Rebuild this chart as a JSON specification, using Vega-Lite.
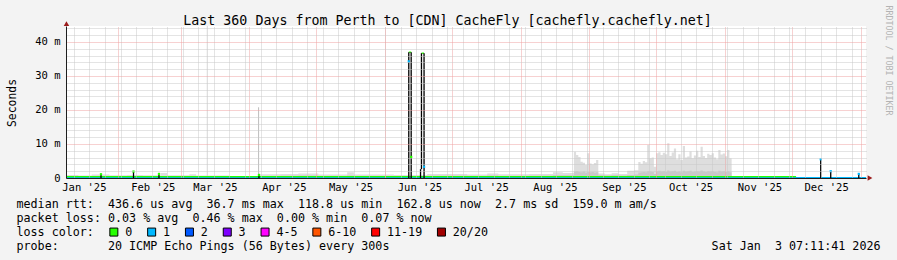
{
 "$schema": "https://vega.github.io/schema/vega-lite/v6.json",
 "width": 800,
 "height": 152,
 "autosize": {"type": "none"},
 "padding": {"left": 66, "top": 26, "right": 31, "bottom": 82},
 "background": "#f3f3f3",
 "config": {"view": {"fill": "#ffffff", "stroke": null}, "font": "DejaVu Sans Mono"},
 "datasets": {
  "smoke": [
   {"date": "2025-01-08T11:00", "hi": 0.9, "lo": 0.5},
   {"date": "2025-01-14T00:00", "hi": 0.7, "lo": 0.45},
   {"date": "2025-01-20T00:00", "hi": 1.0, "lo": 0.55},
   {"date": "2025-01-28T00:00", "hi": 0.8, "lo": 0.5},
   {"date": "2025-02-05T00:00", "hi": 0.9, "lo": 0.5},
   {"date": "2025-02-12T00:00", "hi": 0.8, "lo": 0.5},
   {"date": "2025-02-20T00:00", "hi": 1.5, "lo": 0.6},
   {"date": "2025-02-23T00:00", "hi": 0.8, "lo": 0.5},
   {"date": "2025-03-05T00:00", "hi": 1.1, "lo": 0.55},
   {"date": "2025-03-08T00:00", "hi": 0.7, "lo": 0.45},
   {"date": "2025-03-23T00:00", "hi": 0.6, "lo": 0.4},
   {"date": "2025-04-05T00:00", "hi": 1.1, "lo": 0.6},
   {"date": "2025-04-15T00:00", "hi": 1.2, "lo": 0.65},
   {"date": "2025-04-23T00:00", "hi": 1.3, "lo": 0.7},
   {"date": "2025-05-02T00:00", "hi": 1.0, "lo": 0.6},
   {"date": "2025-05-15T00:00", "hi": 1.7, "lo": 0.7},
   {"date": "2025-05-18T00:00", "hi": 1.0, "lo": 0.6},
   {"date": "2025-06-05T00:00", "hi": 0.9, "lo": 0.55},
   {"date": "2025-06-20T00:00", "hi": 1.2, "lo": 0.65},
   {"date": "2025-07-08T00:00", "hi": 1.0, "lo": 0.6},
   {"date": "2025-07-17T00:00", "hi": 1.3, "lo": 0.7},
   {"date": "2025-07-22T00:00", "hi": 1.1, "lo": 0.6},
   {"date": "2025-08-05T00:00", "hi": 1.2, "lo": 0.65},
   {"date": "2025-08-15T14:00", "hi": 1.7, "lo": 0.8},
   {"date": "2025-08-20T00:00", "hi": 1.5, "lo": 0.8},
   {"date": "2025-08-25T00:00", "hi": 7.7, "lo": 1.9},
   {"date": "2025-08-26T00:00", "hi": 6.8, "lo": 2.0},
   {"date": "2025-08-27T00:00", "hi": 6.2, "lo": 1.8},
   {"date": "2025-08-28T00:00", "hi": 4.8, "lo": 1.7},
   {"date": "2025-08-29T00:00", "hi": 4.5, "lo": 1.9},
   {"date": "2025-08-30T00:00", "hi": 3.8, "lo": 1.6},
   {"date": "2025-08-31T00:00", "hi": 7.3, "lo": 1.8},
   {"date": "2025-09-01T00:00", "hi": 4.3, "lo": 1.7},
   {"date": "2025-09-02T00:00", "hi": 4.0, "lo": 1.8},
   {"date": "2025-09-03T00:00", "hi": 4.4, "lo": 1.6},
   {"date": "2025-09-04T00:00", "hi": 5.3, "lo": 1.7},
   {"date": "2025-09-05T00:00", "hi": 1.3, "lo": 0.8},
   {"date": "2025-09-08T00:00", "hi": 1.1, "lo": 0.7},
   {"date": "2025-09-11T00:00", "hi": 1.4, "lo": 0.8},
   {"date": "2025-09-14T00:00", "hi": 1.2, "lo": 0.7},
   {"date": "2025-09-18T00:00", "hi": 2.1, "lo": 0.9},
   {"date": "2025-09-21T00:00", "hi": 2.3, "lo": 1.0},
   {"date": "2025-09-23T00:00", "hi": 4.7, "lo": 1.6},
   {"date": "2025-09-24T00:00", "hi": 4.2, "lo": 1.7},
   {"date": "2025-09-25T00:00", "hi": 5.0, "lo": 1.8},
   {"date": "2025-09-26T00:00", "hi": 4.6, "lo": 1.7},
   {"date": "2025-09-27T00:00", "hi": 9.7, "lo": 2.0},
   {"date": "2025-09-28T00:00", "hi": 5.8, "lo": 1.9},
   {"date": "2025-09-29T00:00", "hi": 6.0, "lo": 1.8},
   {"date": "2025-09-30T00:00", "hi": 3.3, "lo": 1.2},
   {"date": "2025-10-01T00:00", "hi": 7.3, "lo": 2.0},
   {"date": "2025-10-02T00:00", "hi": 7.6, "lo": 2.1},
   {"date": "2025-10-03T00:00", "hi": 6.8, "lo": 1.9},
   {"date": "2025-10-04T00:00", "hi": 7.4, "lo": 2.0},
   {"date": "2025-10-05T00:00", "hi": 7.0, "lo": 1.8},
   {"date": "2025-10-06T00:00", "hi": 10.2, "lo": 2.2},
   {"date": "2025-10-07T00:00", "hi": 6.5, "lo": 1.9},
   {"date": "2025-10-08T00:00", "hi": 7.5, "lo": 2.0},
   {"date": "2025-10-09T00:00", "hi": 8.7, "lo": 2.1},
   {"date": "2025-10-10T00:00", "hi": 5.5, "lo": 1.8},
   {"date": "2025-10-11T00:00", "hi": 7.0, "lo": 1.9},
   {"date": "2025-10-12T00:00", "hi": 5.3, "lo": 1.7},
   {"date": "2025-10-13T00:00", "hi": 9.4, "lo": 2.1},
   {"date": "2025-10-14T00:00", "hi": 6.0, "lo": 1.9},
   {"date": "2025-10-15T00:00", "hi": 6.3, "lo": 2.0},
   {"date": "2025-10-16T00:00", "hi": 7.8, "lo": 2.1},
   {"date": "2025-10-17T00:00", "hi": 5.8, "lo": 1.8},
   {"date": "2025-10-18T00:00", "hi": 6.6, "lo": 1.9},
   {"date": "2025-10-19T00:00", "hi": 8.0, "lo": 2.0},
   {"date": "2025-10-20T00:00", "hi": 6.2, "lo": 1.9},
   {"date": "2025-10-21T00:00", "hi": 9.2, "lo": 2.2},
   {"date": "2025-10-22T00:00", "hi": 6.5, "lo": 1.9},
   {"date": "2025-10-23T00:00", "hi": 5.9, "lo": 1.8},
   {"date": "2025-10-24T00:00", "hi": 7.1, "lo": 2.0},
   {"date": "2025-10-25T00:00", "hi": 6.8, "lo": 1.9},
   {"date": "2025-10-26T00:00", "hi": 7.3, "lo": 2.0},
   {"date": "2025-10-27T00:00", "hi": 6.0, "lo": 1.8},
   {"date": "2025-10-28T00:00", "hi": 5.5, "lo": 1.7},
   {"date": "2025-10-29T00:00", "hi": 8.2, "lo": 2.1},
   {"date": "2025-10-30T00:00", "hi": 6.9, "lo": 1.9},
   {"date": "2025-10-31T00:00", "hi": 7.2, "lo": 2.0},
   {"date": "2025-11-01T00:00", "hi": 6.4, "lo": 1.8},
   {"date": "2025-11-02T00:00", "hi": 8.2, "lo": 2.0},
   {"date": "2025-11-03T00:00", "hi": 5.8, "lo": 1.7},
   {"date": "2025-11-04T00:00", "hi": 0.3, "lo": 0.2},
   {"date": "2026-01-03T11:00", "hi": 0.3, "lo": 0.2}
  ],
  "unknown": [
   {"date": "2025-03-13T01:00", "lo": 0, "hi": 44.7}
  ],
  "smokespike": [
   {"date": "2025-04-05T03:00", "lo": 0, "hi": 20.8}
  ],
  "median": [
   {"start": "2025-01-08T11:00", "end": "2026-01-03T11:00", "v": 0.1, "loss": "1"},
   {"start": "2025-01-08T11:00", "end": "2025-12-03T00:00", "v": 0.4, "loss": "0"},
   {"start": "2025-06-11T17:00", "end": "2025-06-12T19:00", "v": 37.0, "loss": "0"},
   {"start": "2025-06-17T10:00", "end": "2025-06-18T14:00", "v": 36.7, "loss": "0"}
  ],
  "spikes": [
   {"date": "2025-01-24T05:00", "lo": 0, "hi": 1.1},
   {"date": "2025-02-07T20:00", "lo": 0, "hi": 1.9},
   {"date": "2025-02-19T07:00", "lo": 0, "hi": 1.2},
   {"date": "2025-04-05T07:00", "lo": 0, "hi": 0.9},
   {"date": "2025-06-11T17:00", "lo": 0, "hi": 37.0},
   {"date": "2025-06-12T19:00", "lo": 0, "hi": 37.0},
   {"date": "2025-06-17T00:00", "lo": 0, "hi": 2.6},
   {"date": "2025-06-17T10:00", "lo": 2.6, "hi": 36.7},
   {"date": "2025-06-18T14:00", "lo": 0, "hi": 36.7},
   {"date": "2025-12-14T02:00", "lo": 0, "hi": 5.5},
   {"date": "2025-12-18T14:00", "lo": 0, "hi": 2.0},
   {"date": "2025-12-31T05:00", "lo": 0, "hi": 1.2}
  ],
  "tops": [
   {"date": "2025-01-24T05:00", "v": 1.1, "loss": "0"},
   {"date": "2025-02-07T20:00", "v": 1.9, "loss": "0"},
   {"date": "2025-02-19T07:00", "v": 1.2, "loss": "0"},
   {"date": "2025-04-05T07:00", "v": 0.9, "loss": "0"},
   {"date": "2025-06-11T17:00", "v": 34.3, "loss": "1"},
   {"date": "2025-06-12T19:00", "v": 6.2, "loss": "0"},
   {"date": "2025-06-18T14:00", "v": 3.3, "loss": "1"},
   {"date": "2025-12-14T02:00", "v": 5.5, "loss": "1"},
   {"date": "2025-12-18T14:00", "v": 2.0, "loss": "1"},
   {"date": "2025-12-31T05:00", "v": 1.2, "loss": "1"}
  ],
  "arrows": [
   {"date": "2026-01-05T06:00", "v": 0, "axis": "x"},
   {"date": "2025-01-08T16:00", "v": 45.43, "axis": "y"}
  ]
 },
 "layer": [
  {
   "data": {"name": "smoke"},
   "mark": {"type": "area", "interpolate": "step-after", "color": "#dedede"},
   "encoding": {
    "x": {"field": "date", "type": "temporal",
     "scale": {"domain": [{"year": 2025, "month": 1, "date": 8, "hours": 11}, {"year": 2026, "month": 1, "date": 3, "hours": 11}], "nice": false},
     "axis": {"orient": "top", "tickCount": {"interval": "week", "step": 1}, "grid": true, "gridColor": "#c8c8c8", "gridDash": [1, 1], "gridWidth": 1, "labels": false, "ticks": false, "domain": false, "zindex": 1,
      "title": "Last 360 Days from Perth to [CDN] CacheFly [cachefly.cachefly.net]",
      "titleX": 381, "titleY": -2, "titleAlign": "center", "titleBaseline": "alphabetic", "titleAngle": 0,
      "titleFont": "DejaVu Sans Mono", "titleFontSize": 13.3, "titleFontWeight": "normal", "titleColor": "#000000"}},
    "y": {"field": "hi", "type": "quantitative",
     "scale": {"domain": [0, 44.7], "nice": false, "zero": true},
     "axis": {"orient": "right", "values": [2, 4, 6, 8, 12, 14, 16, 18, 22, 24, 26, 28, 32, 34, 36, 38, 42, 44], "grid": true, "gridColor": "#c8c8c8", "gridDash": [1, 1], "gridWidth": 1, "labels": false, "ticks": false, "domain": false, "zindex": 1,
      "title": "RRDTOOL / TOBI OETIKER", "titleX": 19, "titleY": -21, "titleAngle": 90, "titleAlign": "left", "titleBaseline": "alphabetic",
      "titleFont": "DejaVu Sans Mono", "titleFontSize": 8.3, "titleFontWeight": "normal", "titleColor": "#b3b3b3"}}
   }
  },
  {
   "data": {"name": "smoke"},
   "mark": {"type": "area", "interpolate": "step-after", "color": "#c9c9c9"},
   "encoding": {
    "x": {"field": "date", "type": "temporal",
     "scale": {"domain": [{"year": 2025, "month": 1, "date": 8, "hours": 11}, {"year": 2026, "month": 1, "date": 3, "hours": 11}], "nice": false},
     "axis": {"orient": "top", "tickCount": {"interval": "month", "step": 1}, "grid": true, "gridColor": "#efa3a3", "gridDash": [1, 1], "gridWidth": 1, "labels": false, "ticks": false, "domain": false, "zindex": 1,
      "title": "Sat Jan\u00a0\u00a03 07:11:41 2026", "titleX": 814, "titleY": 223.3, "titleAlign": "right", "titleBaseline": "alphabetic", "titleAngle": 0,
      "titleFont": "DejaVu Sans Mono", "titleFontSize": 11.7, "titleFontWeight": "normal", "titleColor": "#000000"}},
    "y": {"field": "lo", "type": "quantitative",
     "scale": {"domain": [0, 44.7], "nice": false, "zero": true},
     "axis": {"orient": "left", "values": [0, 10, 20, 30, 40], "labelExpr": "datum.value == 0 ? '0' : datum.value + ' m'",
      "grid": true, "gridColor": "#efa3a3", "gridDash": [1, 1], "gridWidth": 1, "ticks": false, "tickSize": 0, "labelPadding": 6,
      "labelFont": "DejaVu Sans Mono", "labelFontSize": 10.5, "labelColor": "#000000", "labelBaseline": "middle",
      "domain": true, "domainColor": "#1e1e1e", "domainWidth": 1, "zindex": 1,
      "title": "Seconds", "titleX": -51, "titleY": 76.5, "titleAngle": -90, "titleAlign": "center", "titleBaseline": "alphabetic",
      "titleFont": "DejaVu Sans Mono", "titleFontSize": 11.4, "titleFontWeight": "normal", "titleColor": "#000000"}}
   }
  },
  {
   "data": {"name": "unknown"},
   "mark": {"type": "rule", "strokeWidth": 1, "color": "#d6d6d6"},
   "encoding": {
    "x": {"field": "date", "type": "temporal",
     "scale": {"domain": [{"year": 2025, "month": 1, "date": 8, "hours": 11}, {"year": 2026, "month": 1, "date": 3, "hours": 11}], "nice": false},
     "axis": {"orient": "bottom",
      "values": [{"year": 2025, "month": 1, "date": 16, "hours": 12}, {"year": 2025, "month": 2, "date": 16, "hours": 12}, {"year": 2025, "month": 3, "date": 16, "hours": 12}, {"year": 2025, "month": 4, "date": 16, "hours": 12}, {"year": 2025, "month": 5, "date": 16, "hours": 12}, {"year": 2025, "month": 6, "date": 16, "hours": 12}, {"year": 2025, "month": 7, "date": 16, "hours": 12}, {"year": 2025, "month": 8, "date": 16, "hours": 12}, {"year": 2025, "month": 9, "date": 16, "hours": 12}, {"year": 2025, "month": 10, "date": 16, "hours": 12}, {"year": 2025, "month": 11, "date": 16, "hours": 12}, {"year": 2025, "month": 12, "date": 16, "hours": 12}],
      "format": "%b '%y", "formatType": "time",
      "labelFont": "DejaVu Sans Mono", "labelFontSize": 10.5, "labelColor": "#000000", "labelPadding": 4.5, "labelFlush": false, "labelOverlap": false, "labelAlign": "center", "labelBaseline": "top",
      "ticks": false, "tickSize": 0, "grid": false, "domain": true, "domainColor": "#1e1e1e", "domainWidth": 1, "zindex": 1,
      "title": ["median rtt:\u00a0\u00a0436.6 us avg\u00a0\u00a036.7 ms max\u00a0\u00a0118.8 us min\u00a0\u00a0162.8 us now\u00a0\u00a02.7 ms sd\u00a0\u00a0159.0 m am/s",
                "packet loss: 0.03 % avg\u00a0\u00a00.46 % max\u00a0\u00a00.00 % min\u00a0\u00a00.07 % now",
                "loss color:",
                "probe:\u00a0\u00a0\u00a0\u00a0\u00a0\u00a0\u00a020 ICMP Echo Pings (56 Bytes) every 300s"],
      "titleX": -50, "titleY": 29.7, "titleAlign": "left", "titleBaseline": "alphabetic", "titleLineHeight": 13.9, "titleAngle": 0,
      "titleFont": "DejaVu Sans Mono", "titleFontSize": 11.7, "titleFontWeight": "normal", "titleColor": "#000000"}},
    "y": {"field": "lo", "type": "quantitative", "scale": {"domain": [0, 44.7], "nice": false, "zero": true}, "axis": null},
    "y2": {"field": "hi"}
   }
  },
  {
   "data": {"name": "smokespike"},
   "mark": {"type": "rule", "strokeWidth": 1, "color": "#bdbdbd"},
   "encoding": {
    "x": {"field": "date", "type": "temporal", "scale": {"domain": [{"year": 2025, "month": 1, "date": 8, "hours": 11}, {"year": 2026, "month": 1, "date": 3, "hours": 11}], "nice": false}, "axis": null},
    "y": {"field": "lo", "type": "quantitative", "scale": {"domain": [0, 44.7], "nice": false, "zero": true}, "axis": null},
    "y2": {"field": "hi"}
   }
  },
  {
   "data": {"name": "median"},
   "mark": {"type": "rule", "strokeWidth": 1.3},
   "encoding": {
    "x": {"field": "start", "type": "temporal", "scale": {"domain": [{"year": 2025, "month": 1, "date": 8, "hours": 11}, {"year": 2026, "month": 1, "date": 3, "hours": 11}], "nice": false}, "axis": null},
    "x2": {"field": "end"},
    "y": {"field": "v", "type": "quantitative", "scale": {"domain": [0, 44.7], "nice": false, "zero": true}, "axis": null},
    "stroke": {"field": "loss", "type": "nominal",
     "scale": {"domain": ["20/20", "11-19", "6-10", "4-5", "3", "2", "1", "0"], "range": ["#a10000", "#ff0000", "#ff5500", "#ff00ff", "#7e00ff", "#0059ff", "#00b8ff", "#26ff00"]},
     "legend": null}
   }
  },
  {
   "data": {"name": "spikes"},
   "mark": {"type": "rule", "strokeWidth": 1.3, "color": "#000000"},
   "encoding": {
    "x": {"field": "date", "type": "temporal", "scale": {"domain": [{"year": 2025, "month": 1, "date": 8, "hours": 11}, {"year": 2026, "month": 1, "date": 3, "hours": 11}], "nice": false}, "axis": null},
    "y": {"field": "lo", "type": "quantitative", "scale": {"domain": [0, 44.7], "nice": false, "zero": true}, "axis": null},
    "y2": {"field": "hi"}
   }
  },
  {
   "data": {"name": "tops"},
   "mark": {"type": "square", "size": 5, "opacity": 1, "filled": true},
   "encoding": {
    "x": {"field": "date", "type": "temporal", "scale": {"domain": [{"year": 2025, "month": 1, "date": 8, "hours": 11}, {"year": 2026, "month": 1, "date": 3, "hours": 11}], "nice": false}, "axis": null},
    "y": {"field": "v", "type": "quantitative", "scale": {"domain": [0, 44.7], "nice": false, "zero": true}, "axis": null},
    "color": {"field": "loss", "type": "nominal",
     "scale": {"domain": ["0", "1", "2", "3", "4-5", "6-10", "11-19", "20/20"], "range": ["#26ff00", "#00b8ff", "#0059ff", "#7e00ff", "#ff00ff", "#ff5500", "#ff0000", "#a10000"]},
     "legend": {"orient": "none", "legendX": 42, "legendY": 200, "direction": "horizontal", "title": null,
      "labelFont": "DejaVu Sans Mono", "labelFontSize": 11.7, "labelColor": "#000000", "labelOffset": 5.5, "columnPadding": 11.8,
      "symbolType": "square", "symbolSize": 64, "symbolStrokeColor": "#000000", "symbolStrokeWidth": 1,
      "padding": 0}}
   }
  },
  {
   "data": {"name": "arrows"},
   "mark": {"type": "point", "filled": true, "size": 30, "opacity": 1, "color": "#9c1c1c"},
   "encoding": {
    "x": {"field": "date", "type": "temporal", "scale": {"domain": [{"year": 2025, "month": 1, "date": 8, "hours": 11}, {"year": 2026, "month": 1, "date": 3, "hours": 11}], "nice": false}, "axis": null},
    "y": {"field": "v", "type": "quantitative", "scale": {"domain": [0, 44.7], "nice": false, "zero": true}, "axis": null},
    "shape": {"field": "axis", "type": "nominal", "scale": {"domain": ["x", "y"], "range": ["triangle-right", "triangle-up"]}, "legend": null}
   }
  }
 ],
 "resolve": {"axis": {"x": "independent", "y": "independent"}}
}
